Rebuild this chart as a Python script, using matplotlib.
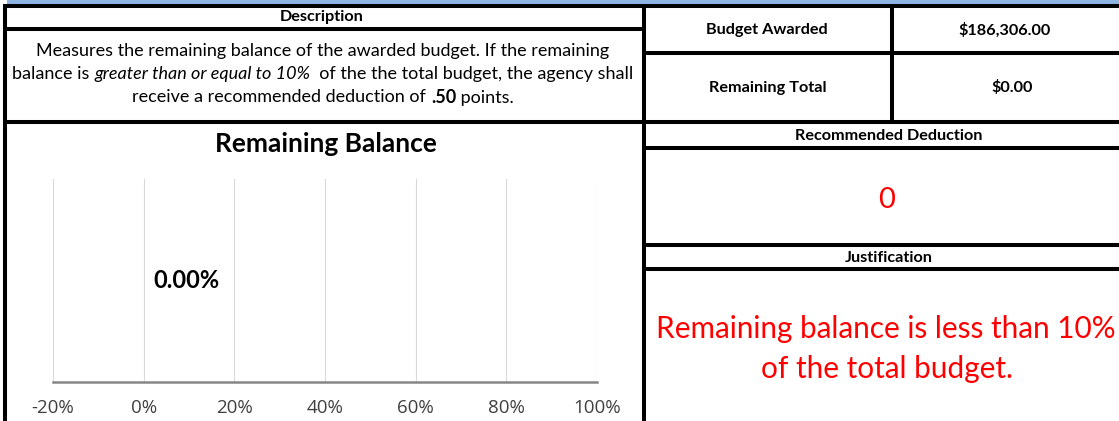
import matplotlib
matplotlib.use("Agg")
import matplotlib.pyplot as plt
from matplotlib.ticker import FuncFormatter

# values shown on the sheet
budget_awarded = 186306.00
remaining_total = 0.00
recommended_deduction = 0
bar_labels = ["Remaining Balance"]
bar_values = [remaining_total / budget_awarded]
x_ticks = [-0.2, 0.0, 0.2, 0.4, 0.6, 0.8, 1.0]

W, H = 1119, 421
FONT = ["Lato", "DejaVu Sans"]
plt.rcParams["font.family"] = FONT

fig = plt.figure(figsize=(W / 100, H / 100), dpi=100)
base = fig.add_axes([0, 0, 1, 1])
base.set_xlim(0, W)
base.set_ylim(H, 0)
base.axis("off")

# top blue band
base.fill_between([7, W], 0, 4, color="#8DB4E2", lw=0)

# cell borders (pixel coords)
lw = 2.9
hlines = [(5.5, 3, W), (29, 3, 644), (122, 3, W), (52.5, 644, W),
          (147.5, 644, W), (245, 644, W), (269, 644, W)]
for y, x0, x1 in hlines:
    base.plot([x0, x1], [y, y], color="black", lw=lw, solid_capstyle="butt")
vlines = [(5, 4, H), (644, 4, H), (892, 4, 122)]
for x, y0, y1 in vlines:
    base.plot([x, x], [y0, y1], color="black", lw=lw, solid_capstyle="butt")


def rich_line(xc, y, parts, size):
    r = fig.canvas.get_renderer()
    texts = []
    x = 0
    for s, style, weight in parts:
        t = base.text(x, y, s, fontsize=size, style=style, fontweight=weight,
                      ha="left", va="center")
        bb = t.get_window_extent(renderer=r)
        texts.append((t, x))
        x += bb.width
    start = xc - x / 2
    for t, off in texts:
        t.set_x(start + off)


# headers
bold = dict(fontweight="bold", ha="center", va="center", fontsize=11.7)
base.text(322, 17.5, "Description", **bold)
base.text(767, 30, "Budget Awarded", **bold)
base.text(1005, 30, f"${budget_awarded:,.2f}", **bold)
base.text(768, 88, "Remaining Total", **bold)
base.text(1012, 88, f"${remaining_total:,.2f}", **bold)
base.text(889, 135.5, "Recommended Deduction", **bold)
base.text(889, 257.5, "Justification", **bold)

# description text
dsize = 13
rich_line(323, 51, [("Measures the remaining balance of the awarded budget. If the remaining",
                     "normal", "normal")], dsize)
rich_line(323, 74, [("balance is ", "normal", "normal"),
                    ("greater than or equal to 10%", "italic", "normal"),
                    ("  of the the total budget, the agency shall", "normal", "normal")], dsize)
rich_line(323, 97.5, [("receive a recommended deduction of ", "normal", "normal"),
                      (".50", "normal", "bold"),
                      (" points.", "normal", "normal")], dsize)

# red values
base.text(887, 199.5, str(recommended_deduction), color="#FF0000", fontsize=21,
          ha="center", va="center")
base.text(886, 329, "Remaining balance is less than 10%", color="#FF0000",
          fontsize=21.4, ha="center", va="center")
base.text(887, 369, "of the total budget.", color="#FF0000",
          fontsize=21.4, ha="center", va="center")

# chart
base.text(326, 144, "Remaining Balance", fontsize=19, fontweight="bold",
          ha="center", va="center")

ax = fig.add_axes([53 / W, (H - 381.5) / H, 544 / W, 203 / H])
ax.barh(bar_labels, bar_values, color="#4F81BD", height=0.6)
ax.set_xlim(-0.2, 1.0)
ax.set_xticks(x_ticks)
ax.xaxis.set_major_formatter(FuncFormatter(lambda v, p: f"{v:.0%}"))
ax.set_yticks([])
ax.grid(axis="x", color="#D9D9D9", lw=0.8)
ax.set_axisbelow(True)
for side in ["left", "top", "right"]:
    ax.spines[side].set_visible(False)
ax.spines["bottom"].set_color("#868686")
ax.spines["bottom"].set_linewidth(1.8)
ax.tick_params(axis="x", length=0, pad=12.5, labelsize=13.5, labelcolor="#404040")
for lab in ax.get_xticklabels():
    lab.set_family(["Open Sans", "DejaVu Sans"])
ax.patch.set_alpha(0)

for i, v in enumerate(bar_values):
    ax.annotate(f"{v:.2%}", xy=(v, i), xytext=(7, 0), textcoords="offset points",
                ha="left", va="center", fontsize=17, fontweight="bold")

fig.savefig("out.png", dpi=100)
